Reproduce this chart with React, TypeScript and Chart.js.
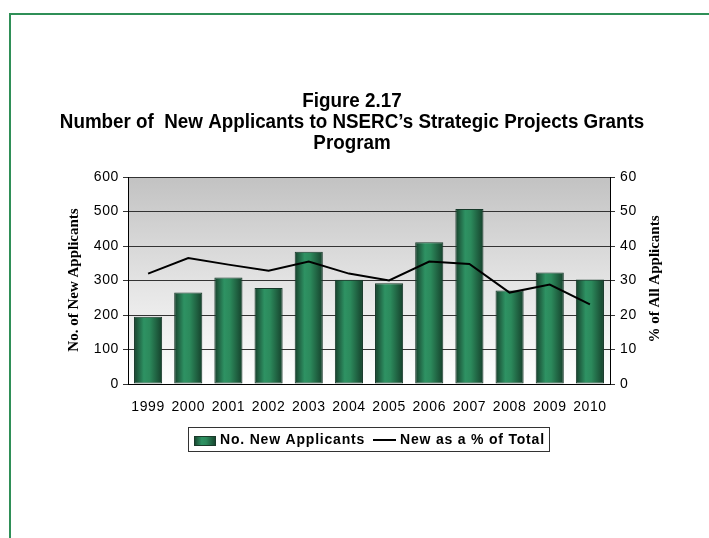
import React, { useEffect, useRef } from "react";
import { Chart, registerables } from "chart.js";

Chart.register(...registerables);

const years = ["1999", "2000", "2001", "2002", "2003", "2004", "2005", "2006", "2007", "2008", "2009", "2010"];
const newApplicants = [195, 265, 309, 278, 383, 302, 292, 411, 507, 271, 323, 303];
const pctOfTotal = [32.0, 36.5, 34.6, 32.8, 35.5, 32.0, 30.0, 35.5, 34.8, 26.5, 28.8, 23.1];
const titleLines = [
  "Figure 2.17",
  "Number of  New Applicants to NSERC\u2019s Strategic Projects Grants",
  "Program",
];
const leftTitle = "No. of New Applicants";
const rightTitle = "% of All Applicants";
const barLabel = "No. New Applicants";
const lineLabel = "New as a % of Total";

const FONT = "'Liberation Sans', Arial, sans-serif";
const SERIF = "'Liberation Serif', 'Times New Roman', serif";
const GREEN = "#2f8f57";

function barGradient(ctx: CanvasRenderingContext2D, x0: number, x1: number) {
  const g = ctx.createLinearGradient(x0, 0, x1, 0);
  g.addColorStop(0, "#163f2b");
  g.addColorStop(0.35, "#2e9263");
  g.addColorStop(0.55, "#2c8a5c");
  g.addColorStop(1, "#15402b");
  return g;
}

const decorPlugin = {
  id: "decor",
  beforeDraw(chart: any) {
    const { ctx, chartArea } = chart;
    ctx.save();
    const g = ctx.createLinearGradient(0, chartArea.top, 0, chartArea.bottom);
    g.addColorStop(0, "#c2c2c2");
    g.addColorStop(0.55, "#e6e6e6");
    g.addColorStop(1, "#ffffff");
    ctx.fillStyle = g;
    ctx.fillRect(chartArea.left, chartArea.top, chartArea.right - chartArea.left, chartArea.bottom - chartArea.top);
    ctx.restore();
    (ctx as any).letterSpacing = "0.6px";
  },
  afterDraw(chart: any) {
    const { ctx } = chart;
    (ctx as any).letterSpacing = "0px";
    ctx.save();
    // frame
    ctx.strokeStyle = GREEN;
    ctx.lineWidth = 2;
    ctx.beginPath();
    ctx.moveTo(10, 538);
    ctx.lineTo(10, 14);
    ctx.lineTo(709, 14);
    ctx.stroke();

    // title (slightly condensed bold sans)
    ctx.fillStyle = "#000";
    ctx.textAlign = "center";
    ctx.textBaseline = "middle";
    ctx.font = `bold 20px ${FONT}`;
    titleLines.forEach((t, i) => {
      ctx.save();
      ctx.translate(352, 101 + i * 21);
      ctx.scale(0.94, 1);
      ctx.fillText(t, 0, 0);
      ctx.restore();
    });

    // axis titles
    ctx.font = `bold 15px ${SERIF}`;
    ctx.save();
    ctx.translate(74, 280);
    ctx.rotate(-Math.PI / 2);
    ctx.fillText(leftTitle, 0, 0);
    ctx.restore();
    ctx.save();
    ctx.translate(655, 279);
    ctx.rotate(-Math.PI / 2);
    ctx.fillText(rightTitle, 0, 0);
    ctx.restore();

    // legend
    ctx.strokeStyle = "#333";
    ctx.lineWidth = 1;
    ctx.strokeRect(188.5, 427.5, 361, 24);
    ctx.fillStyle = barGradient(ctx, 194, 216);
    ctx.fillRect(194, 436, 22, 10);
    ctx.strokeStyle = "#1a3a2a";
    ctx.strokeRect(194.5, 436.5, 21, 9);
    ctx.fillStyle = "#000";
    ctx.textAlign = "left";
    ctx.font = `bold 14px ${FONT}`;
    (ctx as any).letterSpacing = "0.8px";
    ctx.fillText(barLabel, 220, 440);
    ctx.fillText(lineLabel, 400, 440);
    (ctx as any).letterSpacing = "0px";
    ctx.strokeStyle = "#000";
    ctx.lineWidth = 2;
    ctx.beginPath();
    ctx.moveTo(373, 440);
    ctx.lineTo(396, 440);
    ctx.stroke();
    ctx.restore();
  },
};

export default function App() {
  const ref = useRef<HTMLCanvasElement>(null);
  useEffect(() => {
    if (!ref.current) return;
    Chart.defaults.font.family = FONT;
    const chart = new Chart(ref.current, {
      type: "bar",
      data: {
        labels: years,
        datasets: [
          {
            type: "line",
            label: lineLabel,
            data: pctOfTotal,
            yAxisID: "y1",
            borderColor: "#000",
            borderWidth: 2,
            pointRadius: 0,
            tension: 0,
            order: 0,
          } as any,
          {
            type: "bar",
            label: barLabel,
            data: newApplicants,
            yAxisID: "y",
            borderColor: "#17392a",
            borderWidth: 1,
            borderSkipped: false,
            barPercentage: 0.7,
            categoryPercentage: 1,
            order: 1,
            backgroundColor: (c: any) => {
              const ch = c.chart;
              const xs = ch.scales && ch.scales.x;
              if (!ch.chartArea || !xs || c.dataIndex === undefined) return "#2c8a5c";
              const cx = xs.getPixelForValue(c.dataIndex);
              const w = (xs.width / years.length) * 0.7;
              return barGradient(ch.ctx, cx - w / 2, cx + w / 2);
            },
          },
        ],
      },
      options: {
        animation: false,
        responsive: false,
        devicePixelRatio: 1,
        layout: { padding: { top: 177, left: 0, right: 0, bottom: 0 } },
        plugins: {
          legend: { display: false },
          title: { display: false },
          tooltip: { enabled: false },
        },
        scales: {
          x: {
            grid: { display: true, drawOnChartArea: false, drawTicks: false },
            border: { display: true, color: "#000", width: 1 },
            ticks: { color: "#000", font: { size: 14 }, padding: 15, maxRotation: 0, autoSkip: false },
            afterFit: (s: any) => {
              s.height = 154;
            },
          },
          y: {
            position: "left",
            min: 0,
            max: 600,
            ticks: { stepSize: 100, color: "#000", font: { size: 14 }, padding: 4 },
            grid: { color: "#333", lineWidth: 1, tickLength: 5 },
            border: { display: true, color: "#000", width: 1 },
            afterFit: (s: any) => {
              s.width = 128;
            },
          },
          y1: {
            position: "right",
            min: 0,
            max: 60,
            ticks: { stepSize: 10, color: "#000", font: { size: 14 }, padding: 5 },
            grid: { drawOnChartArea: false, color: "#333", tickLength: 5 },
            border: { display: true, color: "#000", width: 1 },
            afterFit: (s: any) => {
              s.width = 99;
            },
          },
        },
      } as any,
      plugins: [decorPlugin],
    });
    return () => chart.destroy();
  }, []);
  return (
    <div style={{ position: "absolute", left: 0, top: 0, width: 709, height: 538, background: "#fff" }}>
      <canvas ref={ref} width={709} height={538} style={{ display: "block" }} />
    </div>
  );
}
